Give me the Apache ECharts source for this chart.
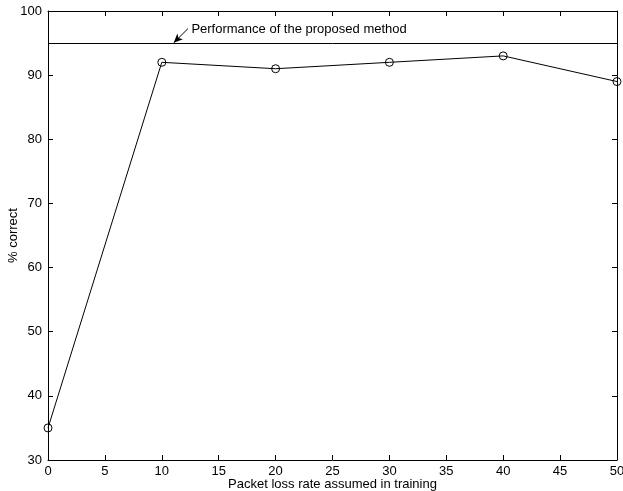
<!DOCTYPE html>
<html><head><meta charset="utf-8">
<script src="https://cdn.jsdelivr.net/npm/echarts@6/dist/echarts.min.js"></script>
<style>html,body{margin:0;padding:0;background:#fff}#c{width:623px;height:491px}</style>
</head><body><div id="c"></div>
<script>
const xValues = [0, 10, 20, 30, 40, 50];
const yValues = [35, 92, 91, 92, 93, 89];
const proposedLevel = 95;
const annotationText = 'Performance of the proposed method';
const arrowFrom = [12.3, 97.25];
const arrowTo = [11.05, 95.05];
const labelAt = [12.6, 97.1];
const xTitle = 'Packet loss rate assumed in training';
const yTitle = '% correct';

const font = 'Liberation Sans, Arial, Helvetica, sans-serif';
const fs = 13;
const chart = echarts.init(document.getElementById('c'));
const axisLine = {show: true, onZero: false, lineStyle: {color: '#000', width: 1}};
const tick = {show: true, inside: true, length: 5, lineStyle: {color: '#000', width: 1}};
chart.setOption({
  animation: false,
  backgroundColor: '#fff',
  grid: {left: 48, right: 6, top: 11, bottom: 31, containLabel: false, outerBoundsMode: 'none'},
  xAxis: [
    {type: 'value', min: 0, max: 50, interval: 5, axisLine, axisTick: tick,
     splitLine: {show: false},
     axisLabel: {color: '#000', fontFamily: font, fontSize: fs, margin: 5},
     name: xTitle, nameLocation: 'middle', nameGap: 18, nameMoveOverlap: false,
     nameTextStyle: {color: '#000', fontFamily: font, fontSize: fs}},
    {type: 'value', position: 'top', min: 0, max: 50, interval: 5, axisLine, axisTick: tick,
     splitLine: {show: false}, axisLabel: {show: false}}
  ],
  yAxis: [
    {type: 'value', min: 30, max: 100, interval: 10, axisLine, axisTick: tick,
     splitLine: {show: false},
     axisLabel: {color: '#000', fontFamily: font, fontSize: fs, margin: 6},
     name: yTitle, nameLocation: 'middle', nameGap: 28, nameMoveOverlap: false,
     nameTextStyle: {color: '#000', fontFamily: font, fontSize: fs}},
    {type: 'value', position: 'right', min: 30, max: 100, interval: 10, axisLine, axisTick: tick,
     splitLine: {show: false}, axisLabel: {show: false}}
  ],
  series: [{
    type: 'line',
    data: xValues.map((x, i) => [x, yValues[i]]),
    symbol: 'circle', symbolSize: 8,
    itemStyle: {color: 'rgba(255,255,255,0)', borderColor: '#000', borderWidth: 1},
    lineStyle: {color: '#000', width: 1},
    z: 3,
    markLine: {
      silent: true, animation: false,
      data: [
        [{coord: [0, proposedLevel], symbol: 'none'}, {coord: [50, proposedLevel], symbol: 'none'}],
        [{coord: arrowFrom, symbol: 'none'}, {coord: arrowTo, symbol: 'arrow', symbolSize: [6, 9]}]
      ],
      lineStyle: {color: '#000', width: 1, type: 'solid'},
      label: {show: false}
    },
    markPoint: {
      silent: true,
      symbol: 'circle', symbolSize: 0,
      data: [{coord: labelAt}],
      label: {show: true, position: 'right', distance: 0, formatter: annotationText,
              color: '#000', fontFamily: font, fontSize: fs}
    }
  }]
});
</script></body></html>
